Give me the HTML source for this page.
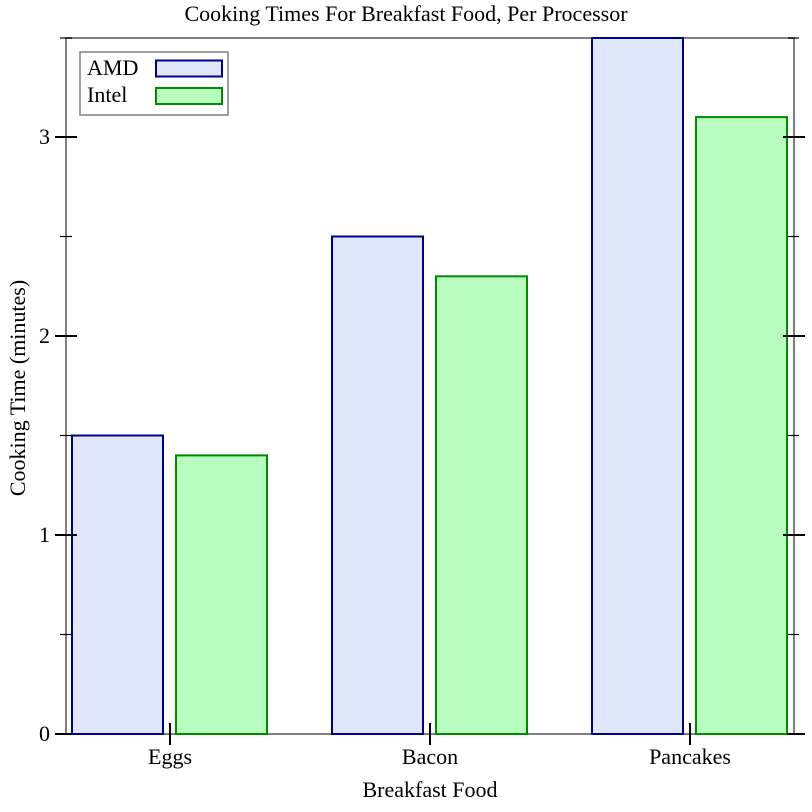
<!DOCTYPE html>
<html>
<head>
<meta charset="utf-8">
<style>
  html,body{margin:0;padding:0;background:#fff;}
  svg{display:block;}
  text{font-family:"Liberation Serif","Times New Roman",serif;fill:#000;}
</style>
</head>
<body>
<svg width="812" height="812" viewBox="0 0 812 812" xmlns="http://www.w3.org/2000/svg">
  <rect x="0" y="0" width="812" height="812" fill="#fff"/>
  <!-- title -->
  <text x="406" y="21" font-size="22" text-anchor="middle">Cooking Times For Breakfast Food, Per Processor</text>

  <!-- frame -->
  <rect x="66" y="38" width="728" height="696" fill="none" stroke="#808080" stroke-width="2"/>

  <!-- bars -->
  <g stroke-width="2">
    <rect x="72" y="435.5" width="91" height="298.5" fill="#e0e6fc" stroke="#000090"/>
    <rect x="176" y="455.4" width="91" height="278.6" fill="#b8fcbf" stroke="#008a00"/>
    <rect x="332" y="236.5" width="91" height="497.5" fill="#e0e6fc" stroke="#000090"/>
    <rect x="436" y="276.3" width="91" height="457.7" fill="#b8fcbf" stroke="#008a00"/>
    <rect x="592" y="38" width="91" height="696" fill="#e0e6fc" stroke="#000090"/>
    <rect x="696" y="117.1" width="91" height="616.9" fill="#b8fcbf" stroke="#008a00"/>
  </g>

  <!-- left ticks -->
  <g stroke="#000" stroke-width="2">
    <line x1="55" y1="734" x2="72" y2="734"/>
    <line x1="55" y1="535" x2="77" y2="535"/>
    <line x1="55" y1="336" x2="77" y2="336"/>
    <line x1="55" y1="137" x2="77" y2="137"/>
    <line x1="60" y1="634.5" x2="72" y2="634.5" stroke-width="1.2"/>
    <line x1="60" y1="435.5" x2="72" y2="435.5" stroke-width="1.2"/>
    <line x1="60" y1="236.5" x2="72" y2="236.5" stroke-width="1.2"/>
    <line x1="60" y1="38" x2="72" y2="38" stroke-width="1.2"/>
    <!-- right ticks -->
    <line x1="787" y1="734" x2="805" y2="734"/>
    <line x1="783" y1="535" x2="805" y2="535"/>
    <line x1="783" y1="336" x2="805" y2="336"/>
    <line x1="783" y1="137" x2="805" y2="137"/>
    <line x1="788" y1="634.5" x2="799" y2="634.5" stroke-width="1.2"/>
    <line x1="788" y1="435.5" x2="799" y2="435.5" stroke-width="1.2"/>
    <line x1="788" y1="236.5" x2="799" y2="236.5" stroke-width="1.2"/>
    <line x1="788" y1="38" x2="799" y2="38" stroke-width="1.2"/>
    <!-- bottom ticks -->
    <line x1="170" y1="723" x2="170" y2="745"/>
    <line x1="430" y1="723" x2="430" y2="745"/>
    <line x1="690" y1="723" x2="690" y2="745"/>
  </g>

  <!-- y tick labels -->
  <g font-size="22" text-anchor="end">
    <text x="50" y="741">0</text>
    <text x="50" y="542">1</text>
    <text x="50" y="343">2</text>
    <text x="50" y="144">3</text>
  </g>

  <!-- x tick labels -->
  <g font-size="22" text-anchor="middle">
    <text x="170" y="764">Eggs</text>
    <text x="430" y="764">Bacon</text>
    <text x="690" y="764">Pancakes</text>
  </g>

  <!-- axis labels -->
  <text x="430" y="797" font-size="22" text-anchor="middle">Breakfast Food</text>
  <text x="0" y="0" font-size="22" text-anchor="middle" transform="translate(25,388) rotate(-90)">Cooking Time (minutes)</text>

  <!-- legend -->
  <rect x="80" y="52" width="148" height="63" fill="#fff" stroke="#808080" stroke-width="1.5"/>
  <text x="87" y="75" font-size="22">AMD</text>
  <text x="87" y="102" font-size="22">Intel</text>
  <rect x="156" y="60.5" width="66" height="16" fill="#e0e6fc" stroke="#000090" stroke-width="2"/>
  <rect x="156" y="88" width="66" height="16" fill="#b8fcbf" stroke="#008a00" stroke-width="2"/>
</svg>
</body>
</html>
